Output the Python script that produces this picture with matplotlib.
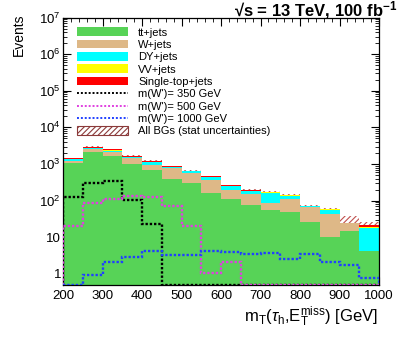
import numpy as np
import matplotlib

matplotlib.use("Agg")
import matplotlib.pyplot as plt
from matplotlib.patches import Patch
from matplotlib.lines import Line2D
from matplotlib.ticker import FixedLocator, FuncFormatter, LogLocator, MultipleLocator, NullFormatter

plt.rcParams["font.family"] = ["Liberation Sans", "DejaVu Sans"]
plt.rcParams["mathtext.fontset"] = "custom"
plt.rcParams["mathtext.rm"] = "Liberation Sans"
plt.rcParams["mathtext.it"] = "Liberation Sans:italic"
plt.rcParams["mathtext.bf"] = "Liberation Sans:bold"
plt.rcParams["hatch.linewidth"] = 0.8

# m_T bins [GeV]
edges = [200, 250, 300, 350, 400, 450, 500, 550, 600, 650, 700, 750, 800, 850, 900, 950, 1000]

# backgrounds (events per bin)
ttjets = [1070, 2150, 1620, 1030, 675, 400, 302, 162, 113, 78, 54, 49, 26, 10.3, 15, 4.3]
wjets = [130, 400, 480, 470, 255, 354, 248, 198, 87, 77, 32, 59, 41, 33.7, 9, 0]
dyjets = [130, 250, 230, 80, 220, 70, 75, 85, 52, 30, 80, 28, 2, 12, 0.3, 13.7]
vvjets = [15, 20, 30, 20, 15, 10, 7, 6, 4, 3, 3, 2, 1, 3, 0.2, 1]
singletop = [70, 120, 140, 70, 50, 36, 15, 12, 6, 3, 3, 2, 1, 1, 0.2, 2]
stat_unc = [40, 70, 70, 50, 45, 35, 25, 20, 12, 10, 10, 9, 7, 4, 12, 5]

# signals
wp350 = [125, 303, 345, 102, 23.4, 0, 0, 0, 0, 0, 0, 0, 0, 0, 0, 0]
wp500 = [20.7, 86, 110, 131, 125, 70, 19.8, 1.04, 2.04, 0, 0, 0, 0, 0, 0, 0]
wp1000 = [0, 0.92, 2.04, 2.8, 4.16, 3.3, 3.24, 4.16, 4.0, 3.5, 3.6, 2.46, 3.45, 2.08, 1.69, 0.78]

bkg_labels = ["tt+jets", "W+jets", "DY+jets", "VV+jets", "Single-top+jets"]
bkg_colors = ["#57d357", "#deb887", "#00ffff", "#ffff00", "#ff0000"]
sig_labels = ["m(W')= 350 GeV", "m(W')= 500 GeV", "m(W')= 1000 GeV"]
sig_colors = ["#000000", "#e040e0", "#2040ff"]

YMIN, YMAX = 0.5, 1e7

fig = plt.figure(figsize=(3.99, 3.39), dpi=100)
ax = fig.add_axes([0.158, 0.160, 0.792, 0.788])
ax.set_yscale("log")

edges_a = np.array(edges, dtype=float)
stack = np.cumsum([ttjets, wjets, dyjets, vvjets, singletop], axis=0)
total = stack[-1]
unc = np.array(stat_unc)

# stat band behind the stack, only the upper half shows
ax.stairs(total + unc, edges_a, baseline=np.maximum(total - unc, 1e-2), fill=True,
          facecolor="none", edgecolor="#c0504d", hatch="//////", lw=0, zorder=1)

base = np.full(len(ttjets), 1e-2)
for top, c in zip(stack, bkg_colors):
    ax.stairs(top, edges_a, baseline=base, fill=True, color=c, lw=0, zorder=2)
    base = top

for vals, c in zip([wp350, wp500, wp1000], sig_colors):
    v = np.clip(np.array(vals, dtype=float), YMIN, None)
    ax.stairs(v, edges_a, baseline=YMIN, color=c, lw=1.7,
              linestyle=(0, (1, 0.8)), zorder=3)

ax.set_xlim(200, 1000)
ax.set_ylim(YMIN, YMAX)

ax.xaxis.set_major_locator(MultipleLocator(100))
ax.xaxis.set_minor_locator(MultipleLocator(20))
ax.yaxis.set_major_locator(FixedLocator([1, 10, 1e2, 1e3, 1e4, 1e5, 1e6, 1e7]))
ax.yaxis.set_minor_locator(LogLocator(base=10, subs=np.arange(2, 10), numticks=20))
ax.yaxis.set_minor_formatter(NullFormatter())


def _ylab(v, pos):
    if v == 1:
        return "1"
    if v == 10:
        return "10"
    return "10$^{%d}$" % round(np.log10(v))


ax.yaxis.set_major_formatter(FuncFormatter(_ylab))
ax.tick_params(which="both", direction="in", top=True, right=True, labelsize=9.5)
ax.tick_params(which="major", length=6, width=0.8)
ax.tick_params(which="minor", length=3, width=0.6)
ax.tick_params(axis="y", pad=1.5)
ax.tick_params(axis="x", pad=3.5)
for s in ax.spines.values():
    s.set_linewidth(0.9)

handles = [Patch(facecolor=c, edgecolor="none") for c in bkg_colors]
handles += [Line2D([], [], color=c, lw=1.4, linestyle=(0, (1, 1))) for c in sig_colors]
handles.append(Patch(facecolor="white", edgecolor="#8b3a3a", hatch="//////", lw=0.8))
labels = bkg_labels + sig_labels + ["All BGs (stat uncertainties)"]
fig.legend(handles, labels, loc="upper left", bbox_to_anchor=(0.193, 0.919),
           frameon=False, fontsize=8, handlelength=4.6, handleheight=0.8,
           handletextpad=0.9, labelspacing=0.2, borderpad=0, borderaxespad=0)

fig.text(18.5 / 399, 1 - 13 / 339, "Events", rotation=90, ha="center", va="top", fontsize=10)
fig.text(378 / 399, 1 - 322 / 339,
         r"m$_{\mathrm{T}}$($\tau_{\mathrm{h}}$,E$_{\mathrm{T}}^{\mathrm{miss}}$) [GeV]",
         ha="right", va="baseline", fontsize=12)
fig.text(397 / 399, 1 - 16 / 339, "\u221as = 13 TeV, 100 fb$^{\\mathbf{-1}}$",
         ha="right", va="baseline", fontsize=12, fontweight="bold")

fig.savefig("out.png", dpi=100)
